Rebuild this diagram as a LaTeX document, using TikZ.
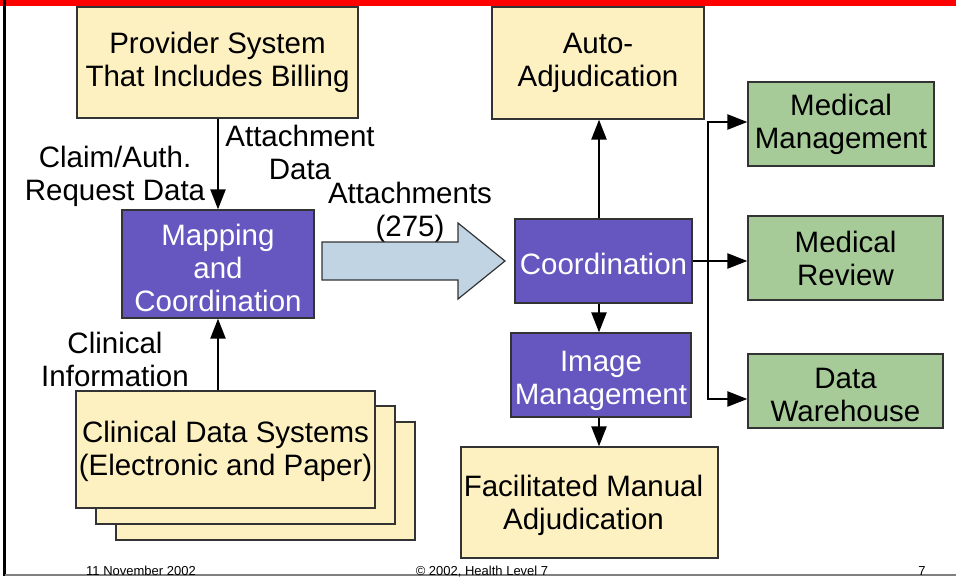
\documentclass[tikz,border=0pt]{standalone}
\usepackage{fontspec}
\setmainfont{Liberation Sans}
\usetikzlibrary{arrows.meta}
\definecolor{boxyellow}{HTML}{FDF0C1}
\definecolor{boxpurple}{HTML}{6656BF}
\definecolor{boxgreen}{HTML}{A7CB98}
\definecolor{arrowblue}{HTML}{C1D4E4}
\definecolor{edgegray}{HTML}{333333}
\tikzset{
  base/.style={draw=edgegray, line width=1.3pt, inner sep=0pt},
  ybox/.style={base, fill=boxyellow},
  pbox/.style={base, fill=boxpurple},
  gbox/.style={base, fill=boxgreen},
  lbl/.style={align=center, inner sep=0pt, font=\fontsize{29.5}{33}\selectfont},
  wlbl/.style={lbl, text=white},
  foot/.style={inner sep=0pt, anchor=base, font=\fontsize{13}{15}\selectfont},
  arr/.style={line width=2.4pt, -{Triangle[length=20pt,width=15pt]}},
  ln/.style={line width=2.4pt}
}
\begin{document}
\begin{tikzpicture}[x=1pt,y=-1pt]
\useasboundingbox (0,0) rectangle (956,576);
% frame
\fill[red] (0,0) rectangle (956,5.5);
\draw[line width=2.5pt] (4.5,0) -- (4.5,576);
\draw[gray, line width=1.5pt] (4.5,575) -- (956,575);
% nodes
\node[ybox, minimum width=281pt, minimum height=111pt,
  label={[lbl]center:Provider System\\That Includes Billing}] (prov) at (217.5,62.5) {};
\node[ybox, minimum width=212pt, minimum height=112pt,
  label={[lbl]center:Auto-\\Adjudication}] (auto) at (598,63) {};
\node[pbox, minimum width=192pt, minimum height=108pt,
  label={[wlbl,yshift=-4pt]center:Mapping\\and\\Coordination}] (map) at (218,264) {};
\node[pbox, minimum width=177pt, minimum height=84pt,
  label={[wlbl,yshift=-3pt]center:Coordination}] (coord) at (603.5,261) {};
\node[pbox, minimum width=180pt, minimum height=84pt,
  label={[wlbl,yshift=-6pt]center:Image\\Management}] (img) at (601,375) {};
\node[ybox, minimum width=257pt, minimum height=111pt,
  label={[lbl,xshift=-6pt,yshift=-3pt]center:Facilitated Manual\\Adjudication}] (fac) at (589.5,502.5) {};
\node[gbox, minimum width=186pt, minimum height=84pt,
  label={[lbl]center:Medical\\Management}] (mm) at (841,124) {};
\node[gbox, minimum width=195pt, minimum height=84pt,
  label={[lbl]center:Medical\\Review}] (mr) at (845.5,258) {};
\node[gbox, minimum width=195pt, minimum height=74pt,
  label={[lbl,yshift=-4pt]center:Data\\Warehouse}] (dw) at (845.5,391) {};
\node[ybox, minimum width=299pt, minimum height=118pt] (cds3) at (265.5,481) {};
\node[ybox, minimum width=299pt, minimum height=118pt] (cds2) at (245.5,465) {};
\node[ybox, minimum width=299pt, minimum height=117pt,
  label={[lbl,yshift=-2pt]center:Clinical Data Systems\\(Electronic and Paper)}] (cds1) at (225.5,449.5) {};
% labels
\node[lbl] (lclaim) at (115,176) {Claim/Auth.\\Request Data};
\node[lbl] (latt) at (300,152) {Attachment\\Data};
\node[lbl] (latts) at (410,212) {Attachments\\(275)};
\node[lbl] (lclin) at (115,359) {Clinical\\Information};
% big arrow
\coordinate (ba) at (322,261);
\draw[draw=edgegray, line width=1.2pt, fill=arrowblue]
  (ba) ++(0,-19) -- ++(136,0) -- ++(0,-19) -- ++(47,38) -- ++(-47,38) -- ++(0,-19) -- ++(-136,0) -- cycle;
% connectors
\coordinate (mx) at (218,0);
\coordinate (ax) at (599,0);
\coordinate (bx) at (708,0);
\draw[arr] (prov.south -| mx) -- (map.north -| mx);
\draw[arr] (cds1.north -| mx) -- (map.south -| mx);
\draw[arr] (coord.north -| ax) -- (auto.south -| ax);
\draw[arr] (coord.south -| ax) -- (img.north -| ax);
\draw[arr] (img.south -| ax) -- (fac.north -| ax);
\draw[arr] (coord.east) -- (coord.east -| mr.west);
\coordinate (mmin) at ([yshift=2pt]mm.west);
\coordinate (dwin) at ([yshift=-8pt]dw.west);
\draw[ln] (mmin -| bx) -- (dwin -| bx);
\draw[arr] ([xshift=-1.2pt]mmin -| bx) -- (mmin);
\draw[arr] ([xshift=-1.2pt]dwin -| bx) -- (dwin);
% footer
\node[foot] (fdate) at (141,575) {11 November 2002};
\node[foot] (fcopy) at (482,575) {© 2002, Health Level 7};
\node[foot] (fpage) at (922,575) {7};
\end{tikzpicture}
\end{document}
